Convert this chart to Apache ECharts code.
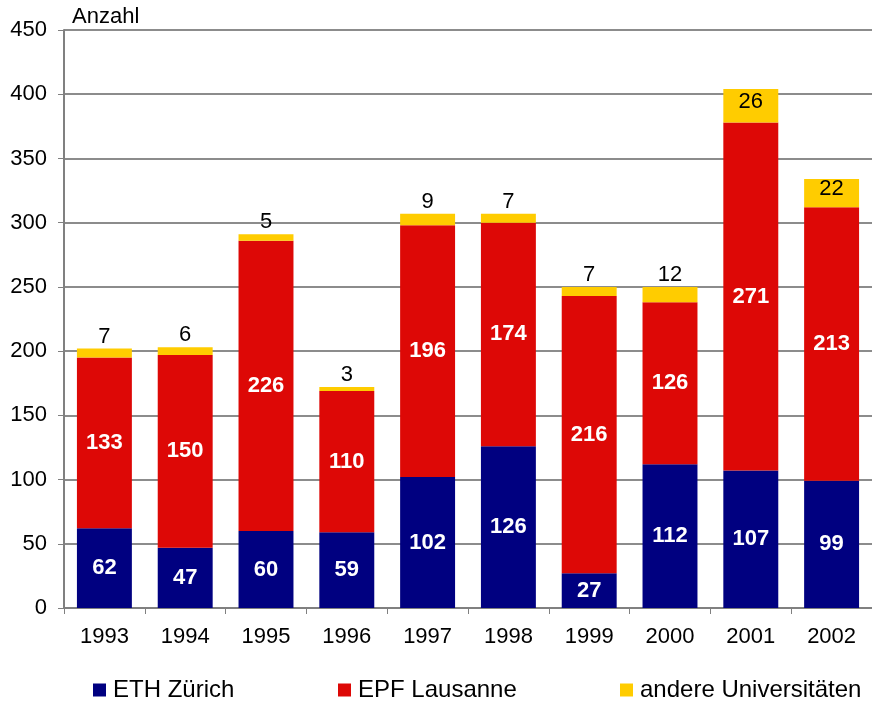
<!DOCTYPE html>
<html>
<head>
<meta charset="utf-8">
<script src="https://cdn.jsdelivr.net/npm/echarts@6/dist/echarts.min.js"></script>
<style>
  html, body { margin: 0; padding: 0; background: #fff; }
  #chart { width: 872px; height: 702px; }
</style>
</head>
<body>
<div id="chart"></div>
<script>
var years = ['1993', '1994', '1995', '1996', '1997', '1998', '1999', '2000', '2001', '2002']
var eth = [62, 47, 60, 59, 102, 126, 27, 112, 107, 99]
var epf = [133, 150, 226, 110, 196, 174, 216, 126, 271, 213]
var andere = [7, 6, 5, 3, 9, 7, 7, 12, 26, 22]
var seriesNames = ['ETH Zürich', 'EPF Lausanne', 'andere Universitäten']
var colors = ['#000080', '#DD0806', '#FFCC00']

var font = 'Liberation Sans, Arial, sans-serif'
var chart = echarts.init(document.getElementById('chart'))

var legendItem = function(name, left) {
  return {
    data: [name],
    left: left,
    top: 673,
    itemWidth: 13,
    itemHeight: 13,
    itemGap: 6,
    icon: 'rect',
    textStyle: { fontFamily: font, fontSize: 24, color: '#000', padding: [0, 0, 0, 2] }
  }
}

chart.setOption({
  animation: false,
  color: colors,
  grid: { left: 64, right: -4, top: 30, bottom: 94, containLabel: false },
  legend: [
    legendItem(seriesNames[0], 88),
    legendItem(seriesNames[1], 333),
    legendItem(seriesNames[2], 615)
  ],
  graphic: [{
    type: 'text',
    left: 72,
    top: 6,
    style: { text: 'Anzahl', fontFamily: font, fontSize: 22, fill: '#000' }
  }],
  xAxis: {
    type: 'category',
    data: years,
    axisLine: { lineStyle: { color: '#808080', width: 2 } },
    axisTick: { show: true, length: 6, lineStyle: { color: '#808080' } },
    axisLabel: { fontFamily: font, fontSize: 22, color: '#000', margin: 18 }
  },
  yAxis: {
    type: 'value',
    min: 0,
    max: 450,
    interval: 50,
    axisLine: { show: true, lineStyle: { color: '#808080', width: 2 } },
    axisTick: { show: true, length: 6, lineStyle: { color: '#808080' } },
    axisLabel: { fontFamily: font, fontSize: 22, color: '#000', margin: 17 },
    splitLine: { show: true, lineStyle: { color: '#666', width: 1.5 } }
  },
  series: [
    {
      name: seriesNames[0],
      type: 'bar',
      stack: 'total',
      barWidth: '68%',
      data: eth,
      label: {
        show: true,
        position: 'inside',
        color: '#fff',
        fontFamily: font,
        fontWeight: 'bold',
        fontSize: 22
      }
    },
    {
      name: seriesNames[1],
      type: 'bar',
      stack: 'total',
      data: epf,
      label: {
        show: true,
        position: 'inside',
        color: '#fff',
        fontFamily: font,
        fontWeight: 'bold',
        fontSize: 22
      }
    },
    {
      name: seriesNames[2],
      type: 'bar',
      stack: 'total',
      data: andere.map(function(v) {
        return v > 20
          ? { value: v, label: { position: 'inside', offset: [0, -4] } }
          : { value: v }
      }),
      label: {
        show: true,
        position: 'top',
        distance: 1,
        color: '#000',
        fontFamily: font,
        fontSize: 22
      }
    }
  ]
})
</script>
</body>
</html>
